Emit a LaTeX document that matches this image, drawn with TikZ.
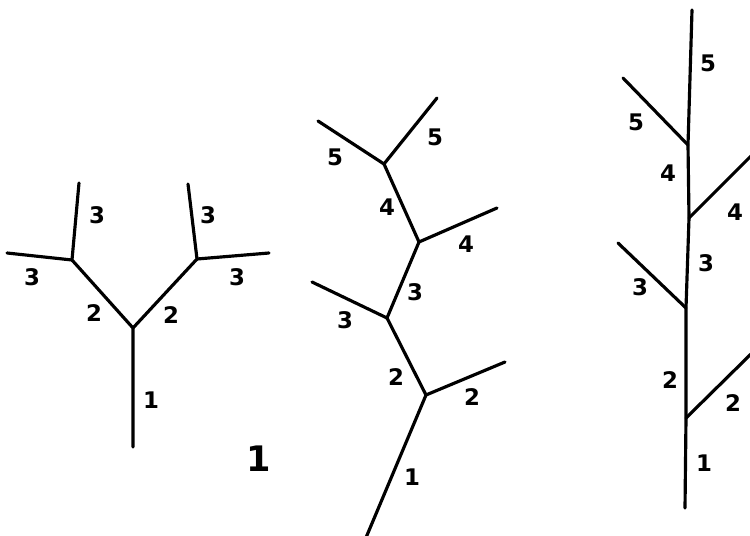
\documentclass[tikz,border=0pt]{standalone}
\usepackage{fontspec}
\setmainfont{DejaVu Sans}
\usepackage{tikz}

\begin{document}
\begin{tikzpicture}[x=0.02cm,y=-0.02cm,
  branch/.style={line width=1.8pt,line cap=round,line join=round},
  num/.style={font=\fontsize{13}{15}\selectfont\bfseries,inner sep=0pt}]
  \useasboundingbox (0,0) rectangle (750,536);
  \clip (0,0) rectangle (750,536);
  % first tree: symmetric fork
  \coordinate (a0) at (133,447);
  \coordinate (a1) at (133,328);
  \coordinate (aL) at (72,260);
  \coordinate (aLu) at (79,183);
  \coordinate (aLl) at (7,253);
  \coordinate (aR) at (197,259);
  \coordinate (aRu) at (188,184);
  \coordinate (aRr) at (269,253);
  \draw[branch] (a0)--(a1)--(aL)--(aLu);
  \draw[branch] (aL)--(aLl);
  \draw[branch] (a1)--(aR)--(aRu);
  \draw[branch] (aR)--(aRr);
  \node[num] (a1t) at (151,400) {1};
  \node[num] (a2l) at (94,313) {2};
  \node[num] (a2r) at (171,315) {2};
  \node[num] (a3a) at (97,215) {3};
  \node[num] (a3b) at (32,277) {3};
  \node[num] (a3c) at (208,215) {3};
  \node[num] (a3d) at (237,277) {3};
  \node[font=\fontsize{20}{24}\selectfont\bfseries,inner sep=0pt] (fig) at (259,459) {1};
  % second tree: zigzag axis
  \coordinate (b0) at (365,540);
  \coordinate (b1) at (426,395);
  \coordinate (b1r) at (505,362);
  \coordinate (b2) at (387,318);
  \coordinate (b2l) at (312,282);
  \coordinate (b3) at (419,242);
  \coordinate (b3r) at (497,208);
  \coordinate (b4) at (384,164);
  \coordinate (b4l) at (318,121);
  \coordinate (b4r) at (437,98);
  \draw[branch] (b0)--(b1)--(b2)--(b3)--(b4)--(b4r);
  \draw[branch] (b1)--(b1r);
  \draw[branch] (b2)--(b2l);
  \draw[branch] (b3)--(b3r);
  \draw[branch] (b4)--(b4l);
  \node[num] (b1t) at (412,477) {1};
  \node[num] (b2a) at (396,377) {2};
  \node[num] (b2b) at (472,397) {2};
  \node[num] (b3a) at (415,292) {3};
  \node[num] (b3b) at (345,320) {3};
  \node[num] (b4a) at (387,207) {4};
  \node[num] (b4b) at (466,244) {4};
  \node[num] (b5a) at (335,157) {5};
  \node[num] (b5b) at (435,137) {5};
  % third tree: straight axis
  \coordinate (c0) at (685,508);
  \coordinate (c1) at (686,418);
  \coordinate (c1r) at (752,353);
  \coordinate (c2) at (686,308);
  \coordinate (c2l) at (618,243);
  \coordinate (c3) at (689,218);
  \coordinate (c3r) at (752,155);
  \coordinate (c4) at (688,145);
  \coordinate (c4l) at (623,78);
  \coordinate (c5) at (692,10);
  \draw[branch] (c0)--(c1)--(c2)--(c3)--(c4)--(c5);
  \draw[branch] (c1)--(c1r);
  \draw[branch] (c2)--(c2l);
  \draw[branch] (c3)--(c3r);
  \draw[branch] (c4)--(c4l);
  \node[num] (c1t) at (704,463) {1};
  \node[num] (c2a) at (670,380) {2};
  \node[num] (c2b) at (733,403) {2};
  \node[num] (c3a) at (706,263) {3};
  \node[num] (c3b) at (640,287) {3};
  \node[num] (c4a) at (668,173) {4};
  \node[num] (c4b) at (735,212) {4};
  \node[num] (c5a) at (708,63) {5};
  \node[num] (c5b) at (636,122) {5};
\end{tikzpicture}
\end{document}
